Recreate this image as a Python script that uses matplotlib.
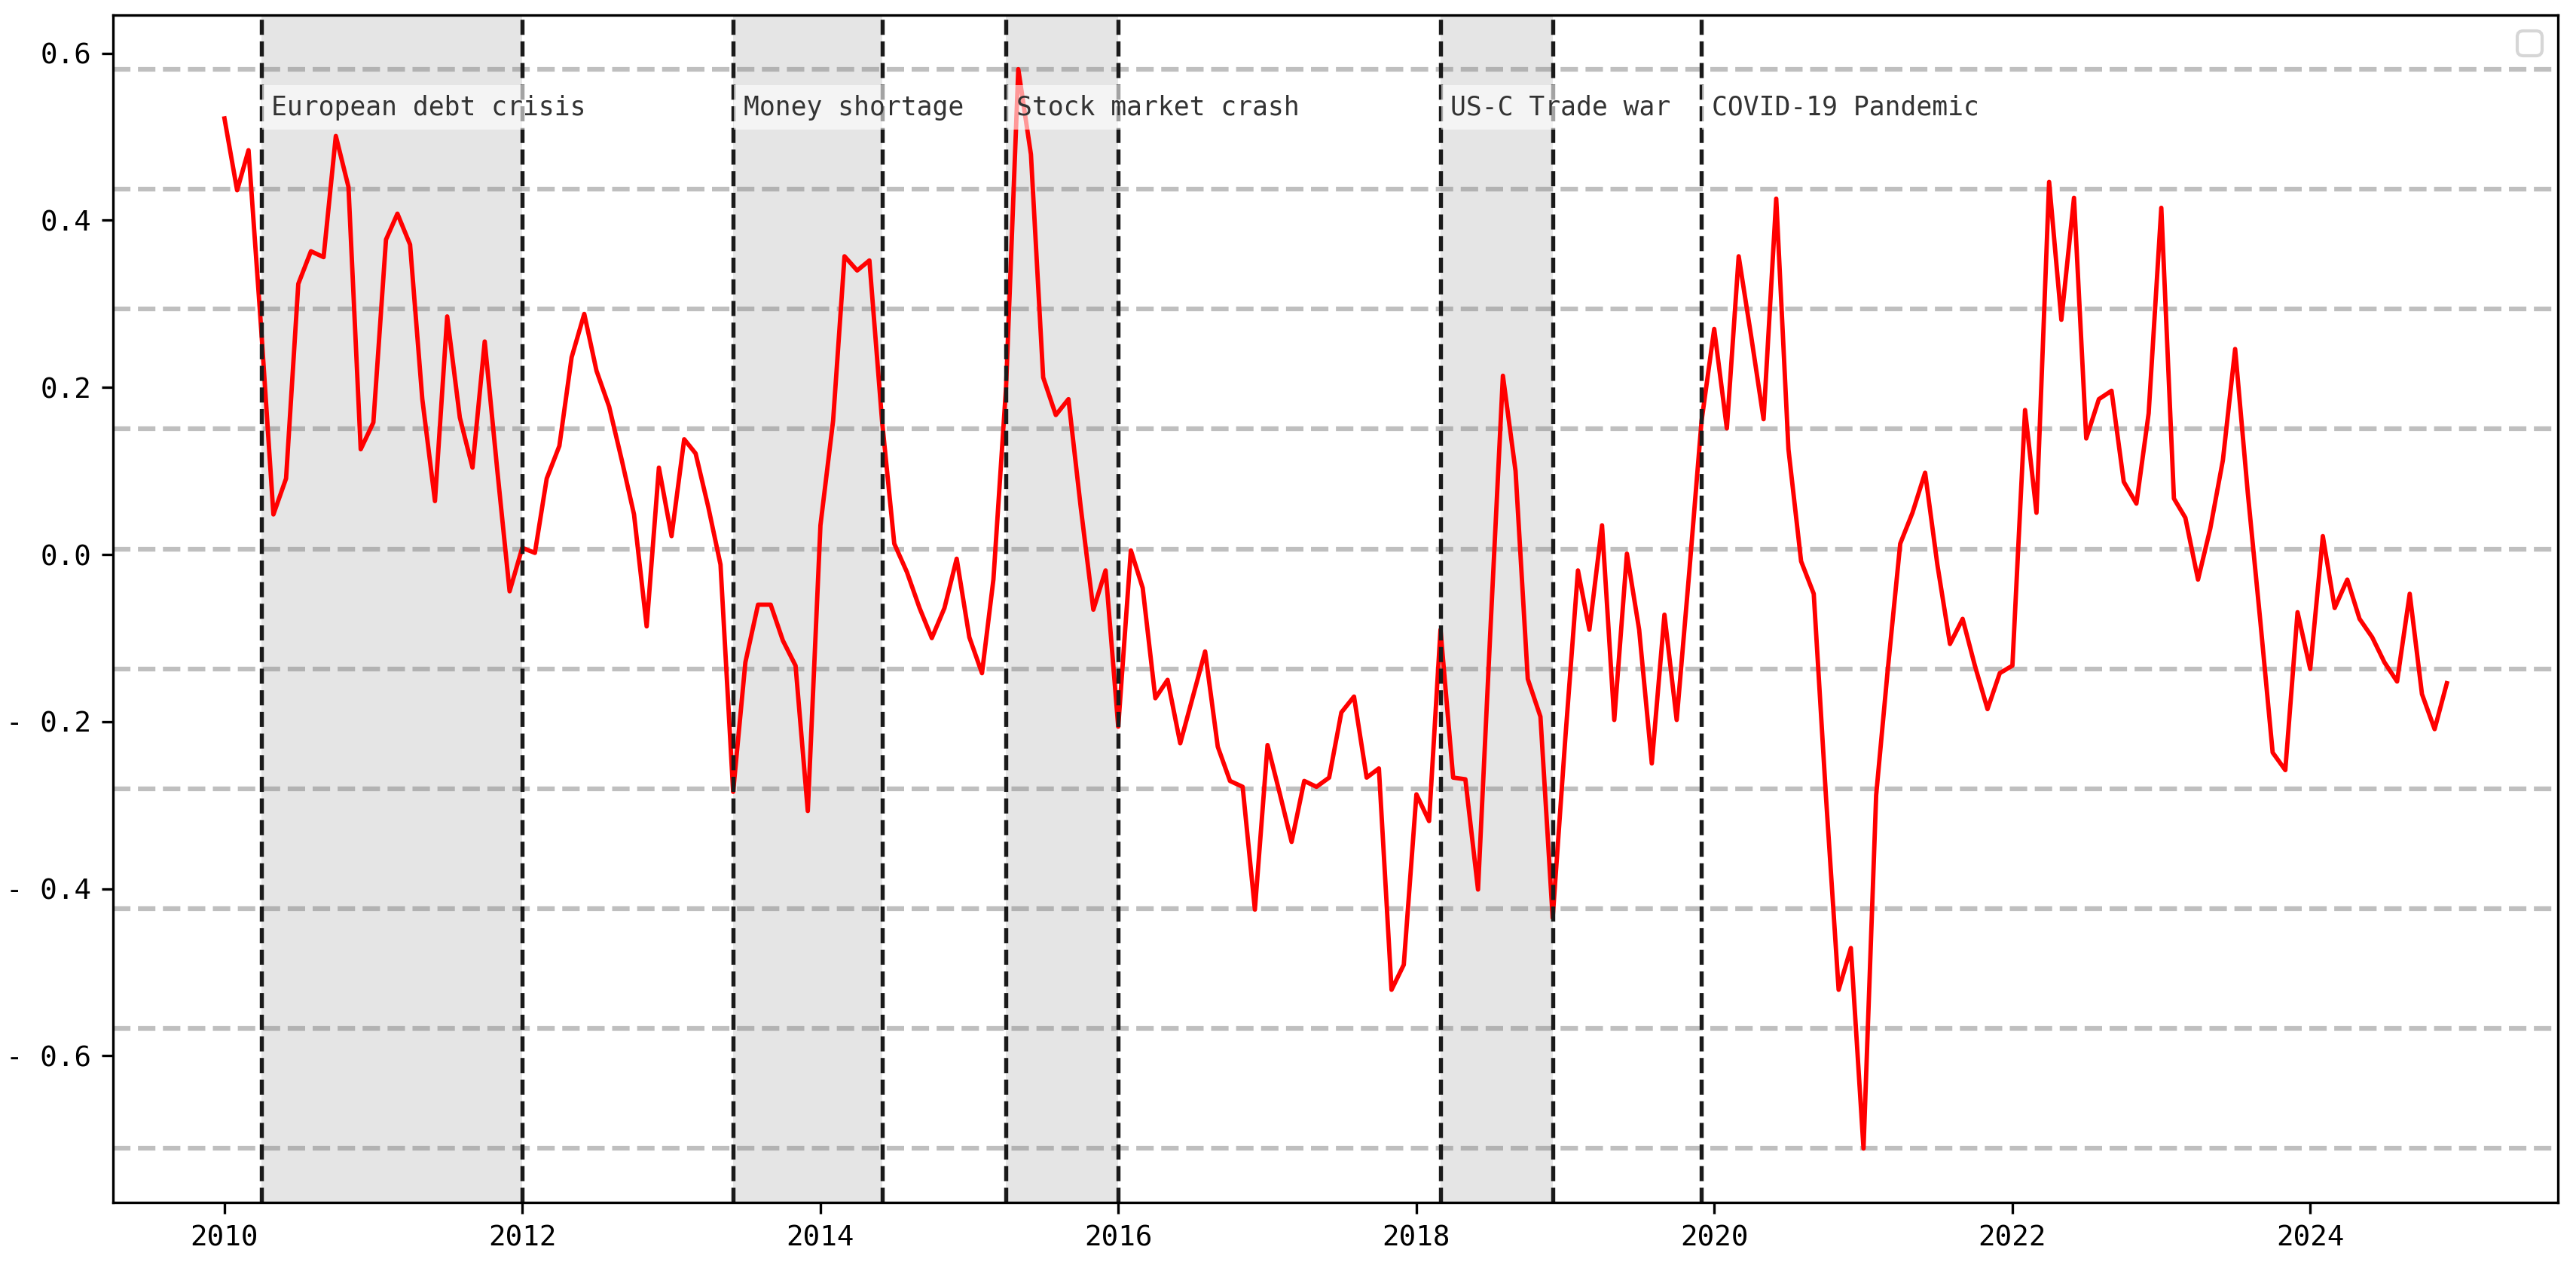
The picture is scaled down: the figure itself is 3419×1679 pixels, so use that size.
import numpy as np
import pandas as pd
import matplotlib
matplotlib.use('Agg')
import matplotlib.pyplot as plt
import matplotlib.dates as mdates
from matplotlib.ticker import FuncFormatter

plt.rcParams['font.family'] = ['DejaVu Sans Mono']

# monthly index, Jan 2010 - Dec 2024
months = pd.date_range('2010-01-01', periods=180, freq='MS')
index_values = [
    0.522, 0.436, 0.484, 0.270, 0.048, 0.091, 0.324, 0.363, 0.356, 0.501, 0.440, 0.126,
    0.158, 0.377, 0.408, 0.371, 0.186, 0.064, 0.285, 0.164, 0.104, 0.255, 0.100, -0.044,
    0.008, 0.002, 0.091, 0.130, 0.236, 0.288, 0.220, 0.177, 0.113, 0.048, -0.086, 0.104,
    0.022, 0.138, 0.121, 0.057, -0.012, -0.284, -0.129, -0.060, -0.060, -0.103, -0.133, -0.307,
    0.035, 0.160, 0.357, 0.340, 0.352, 0.160, 0.013, -0.021, -0.064, -0.100, -0.064, -0.005,
    -0.099, -0.142, -0.030, 0.200, 0.581, 0.479, 0.212, 0.167, 0.186, 0.057, -0.066, -0.019,
    -0.206, 0.005, -0.040, -0.172, -0.150, -0.226, -0.172, -0.116, -0.230, -0.271, -0.278, -0.425,
    -0.228, -0.288, -0.344, -0.271, -0.278, -0.267, -0.189, -0.170, -0.267, -0.256, -0.521, -0.491,
    -0.287, -0.319, -0.090, -0.267, -0.269, -0.401, -0.094, 0.214, 0.100, -0.149, -0.194, -0.435,
    -0.220, -0.019, -0.090, 0.035, -0.198, 0.001, -0.090, -0.250, -0.072, -0.198, -0.020, 0.160,
    0.270, 0.151, 0.357, 0.260, 0.162, 0.426, 0.126, -0.008, -0.047, -0.290, -0.521, -0.471,
    -0.711, -0.288, -0.140, 0.013, 0.050, 0.098, -0.012, -0.107, -0.077, -0.133, -0.185, -0.142,
    -0.133, 0.173, 0.050, 0.446, 0.281, 0.427, 0.139, 0.186, 0.196, 0.087, 0.061, 0.169,
    0.415, 0.067, 0.044, -0.030, 0.031, 0.113, 0.246, 0.074, -0.081, -0.237, -0.258, -0.069,
    -0.137, 0.022, -0.064, -0.030, -0.077, -0.099, -0.129, -0.152, -0.047, -0.167, -0.209, -0.154,
]

event_names = ['European debt crisis', 'Money shortage', 'Stock market crash',
               'US-C Trade war', 'COVID-19 Pandemic']
event_start = ['2010-04-01', '2013-06-01', '2015-04-01', '2018-03-01', '2019-12-01']
event_end = ['2012-01-01', '2014-06-01', '2016-01-01', '2018-12-01', None]

vals = np.array(index_values)

fig, ax = plt.subplots(figsize=(3419 / 300, 1679 / 300), dpi=300)
fig.subplots_adjust(left=0.044, right=0.993, top=0.988, bottom=0.0494)

for lvl in np.linspace(vals.min(), vals.max(), 10):
    ax.axhline(lvl, color='grey', alpha=0.5, ls='--', lw=1.5)

ax.plot(months, vals, color='red', lw=1.4)

for name, s, e in zip(event_names, event_start, event_end):
    s = pd.Timestamp(s)
    ax.axvline(s, color='#1a1a1a', ls='--', lw=1.3)
    if e is not None:
        e = pd.Timestamp(e)
        ax.axvline(e, color='#1a1a1a', ls='--', lw=1.3)
        ax.axvspan(s, e, color='grey', alpha=0.2, lw=0)
    ax.text(mdates.date2num(s + pd.Timedelta(days=25)), 0.535, name,
            va='center', ha='left', fontsize=8.3, color='#333333',
            bbox=dict(facecolor='white', alpha=0.6, edgecolor='none', pad=3))

ax.yaxis.set_major_formatter(FuncFormatter(
    lambda v, p: f'- {abs(v):.1f}' if v < -1e-9 else f'{abs(v):.1f}'))
ax.tick_params(labelsize=9)

ax.legend(handles=[], loc='upper right')

fig.savefig('out.png', dpi=300)
